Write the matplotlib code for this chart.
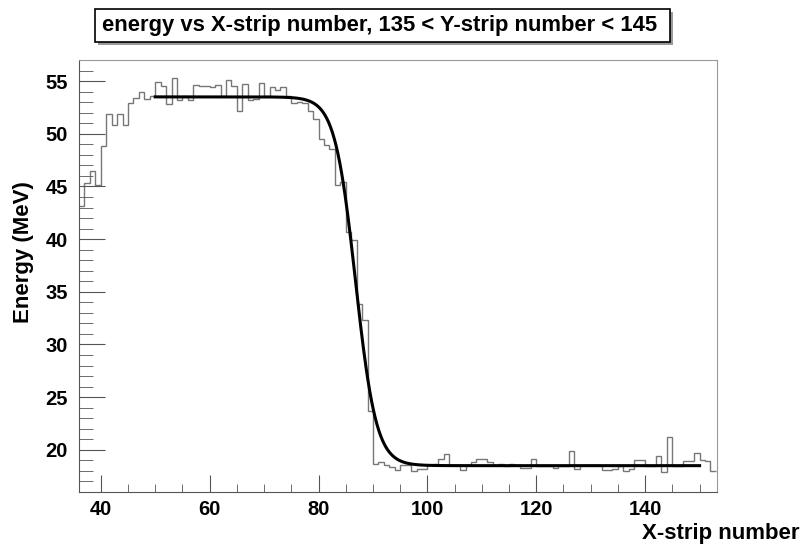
import matplotlib

matplotlib.use("Agg")
import matplotlib.pyplot as plt
import numpy as np
from matplotlib.patches import Rectangle
from matplotlib.ticker import MultipleLocator

plt.rcParams["font.family"] = ["Liberation Sans", "DejaVu Sans"]
plt.rcParams["font.weight"] = "bold"

# histogram: one bin per X-strip, lower edges 36..152
strip_lo = 36
energy = [
    43.1, 45.3, 46.5, 45.1, 48.8, 51.9, 50.8, 51.9, 50.8, 52.9,  # 36-45
    53.4, 54.0, 53.3, 53.6, 54.9, 54.5, 52.8, 55.3, 53.2, 53.6,  # 46-55
    53.2, 54.6, 54.5, 54.5, 54.4, 54.6, 53.6, 55.1, 54.5, 52.2,  # 56-65
    54.7, 53.2, 53.3, 54.8, 53.6, 54.4, 54.2, 54.4, 53.6, 52.9,  # 66-75
    53.0, 52.9, 52.2, 51.4, 49.5, 48.9, 48.6, 45.1, 45.4, 40.7,  # 76-85
    39.9, 33.8, 32.3, 23.7, 18.7, 18.8, 18.6, 18.4, 18.05, 18.6,  # 86-95
    18.6, 18.0, 18.2, 18.2, 18.6, 18.7, 19.15, 19.6, 18.6, 18.6,  # 96-105
    18.05, 18.6, 18.8, 19.1, 19.1, 18.8, 18.6, 18.7, 18.5, 18.7,  # 106-115
    18.6, 18.3, 18.3, 19.1, 18.5, 18.5, 18.5, 18.3, 18.5, 18.5,  # 116-125
    19.9, 18.2, 18.6, 18.6, 18.6, 18.6, 18.05, 18.05, 18.2, 18.5,  # 126-135
    17.96, 18.2, 19.0, 19.0, 18.5, 18.5, 19.4, 17.9, 21.2, 18.5,  # 136-145
    18.5, 18.9, 18.9, 19.7, 19.0, 18.9, 17.96,  # 146-152
]

# Fermi-function fit as drawn: A / (1 + exp((x - x0) / w)) + B
fit_A = 35.0
fit_x0 = 86.8
fit_w = 1.9
fit_B = 18.5
fit_range = (50, 150)

title = "energy vs X-strip number, 135 < Y-strip number < 145"
xlabel = "X-strip number"
ylabel = "Energy (MeV)"

edges = np.arange(strip_lo, strip_lo + len(energy) + 1)

fig = plt.figure(figsize=(8.03, 5.44), dpi=100)
ax = fig.add_axes([79 / 803, 1 - 492 / 544, (717 - 79) / 803, (492 - 60) / 544])

ax.stairs(energy, edges, baseline=None, color="#777777", linewidth=1.0)

xf = np.linspace(*fit_range, 600)
yf = fit_A / (1 + np.exp((xf - fit_x0) / fit_w)) + fit_B
ax.plot(xf, yf, color="black", linewidth=2.2)

ax.set_xlim(36, 153.2)
ax.set_ylim(16.0, 57.0)
ax.xaxis.set_major_locator(MultipleLocator(20))
ax.xaxis.set_minor_locator(MultipleLocator(5))
ax.yaxis.set_major_locator(MultipleLocator(5))
ax.yaxis.set_minor_locator(MultipleLocator(1))
ax.tick_params(axis="both", which="both", direction="in", color="#555555",
               top=False, right=False, labelsize=14.5)
ax.tick_params(axis="x", which="major", length=12, pad=6)
ax.tick_params(axis="x", which="minor", length=6)
ax.tick_params(axis="y", which="major", length=19, pad=8)
ax.tick_params(axis="y", which="minor", length=10)
for lab in ax.get_xticklabels() + ax.get_yticklabels():
    lab.set_fontweight("bold")
for side in ["left", "bottom"]:
    ax.spines[side].set_color("#555555")
for side in ["top", "right"]:
    ax.spines[side].set_color("#999999")

fig.text(800 / 803, 1 - 533 / 544, xlabel, ha="right", va="center",
         fontsize=16, fontweight="bold")
fig.text(24 / 803, 1 - 252 / 544, ylabel, ha="center", va="center",
         rotation=90, fontsize=16, fontweight="bold")

# ROOT-style title box with drop shadow
bx0, bx1, by0, by1 = 95, 670, 9, 42
fig.patches.append(Rectangle((bx0 / 803 + 3 / 803, 1 - (by1 + 3) / 544),
                             (bx1 - bx0) / 803, (by1 - by0) / 544,
                             transform=fig.transFigure, facecolor="#9a9a9a",
                             edgecolor="none", zorder=1))
fig.patches.append(Rectangle((bx0 / 803, 1 - by1 / 544),
                             (bx1 - bx0) / 803, (by1 - by0) / 544,
                             transform=fig.transFigure, facecolor="white",
                             edgecolor="black", linewidth=1.2, zorder=2))
fig.text((bx0 + bx1) / 2 / 803 - 3 / 803, 1 - (by0 + by1) / 2 / 544, title,
         ha="center", va="center", fontsize=15.8, fontweight="bold", zorder=3)

fig.savefig("out.png", dpi=100)
